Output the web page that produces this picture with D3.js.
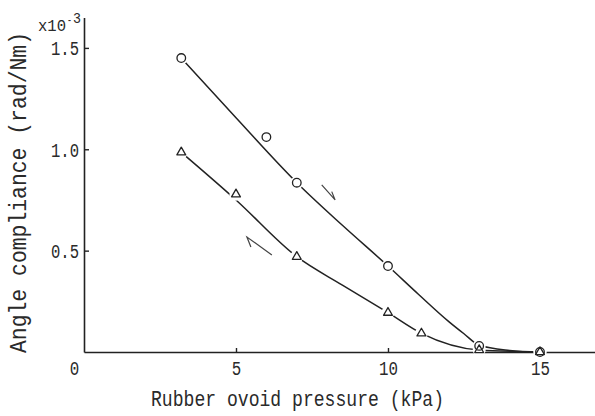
<!DOCTYPE html>
<html>
<head>
<meta charset="utf-8">
<script src="https://cdn.jsdelivr.net/npm/d3@7"></script>
<style>
  body { margin: 0; background: #fff; }
  text { font-family: "Liberation Mono", "DejaVu Sans Mono", monospace; fill: #2a2a2a; }
</style>
</head>
<body>
<svg id="chart" width="595" height="416"></svg>
<script>
// measured points, circles (pressure rising) and triangles (pressure falling)
var circleP = [3.2, 6, 7, 10, 13, 15];
var circleC = [1.45, 1.06, 0.835, 0.424, 0.03, 0.0];
var triP = [3.2, 5, 7, 10, 11.1, 13, 15];
var triC = [0.985, 0.778, 0.47, 0.194, 0.092, 0.01, 0.0];

// hand drawn fit curves
var circleFitP = [3.2, 5, 7, 8.5, 10, 11, 12, 12.5, 13, 14, 15];
var circleFitC = [1.45, 1.155, 0.835, 0.625, 0.424, 0.285, 0.15, 0.09, 0.033, 0.008, 0.0];
var triFitP = [3.2, 5, 7, 8.5, 10, 11.1, 13, 15];
var triFitC = [0.985, 0.75, 0.47, 0.33, 0.194, 0.092, 0.01, 0.0];

// direction arrows (tail, tip, barb) in data units
var arrowDownP = [7.82, 8.26, 8.15];
var arrowDownC = [0.824, 0.75, 0.791];
var arrowUpP = [6.18, 5.36, 5.49];
var arrowUpC = [0.479, 0.567, 0.518];

var xTicks = [0, 5, 10, 15];
var yTicks = [0.5, 1.0, 1.5];

var svg = d3.select("#chart");

//scales
var x = d3.scaleLinear().domain([0, 16.8]).range([84, 594.7]);
var y = d3.scaleLinear().domain([0, 1.65]).range([352, 17.5]);

var ink = "#222";

//axes
var xAxis = d3.axisBottom(x).tickValues(xTicks).tickSize(-4).tickSizeOuter(0)
    .tickFormat(d3.format("d"));
var yAxis = d3.axisLeft(y).tickValues(yTicks).tickSize(-5).tickSizeOuter(0)
    .tickPadding(5).tickFormat(d3.format(".1f"));

var gx = svg.append("g").attr("transform", "translate(0,352)").call(xAxis);
var gy = svg.append("g").attr("transform", "translate(84,0)").call(yAxis);

[gx, gy].forEach(function(g) {
  g.select(".domain").attr("stroke", ink).attr("stroke-width", 1.6);
  g.selectAll(".tick line").attr("stroke", ink).attr("stroke-width", 1.4);
  g.selectAll(".tick text").attr("font-size", 21).attr("fill", "#2a2a2a")
    .attr("font-family", "Liberation Mono")
    .attr("lengthAdjust", "spacingAndGlyphs");
});

gx.selectAll(".tick text")
  .attr("y", 23).attr("dy", null)
  .attr("textLength", function(d) { return String(d).length * 9.5; })
  .attr("x", function(d) { return d === 0 ? -10 : 0; });
gx.selectAll(".tick").filter(function(d) { return d === 0; }).select("line").remove();

gy.selectAll(".tick text")
  .attr("dy", "0.33em")
  .attr("textLength", 28);

//axis titles
svg.append("text")
  .attr("x", 297.5).attr("y", 406)
  .attr("text-anchor", "middle")
  .attr("font-size", 22)
  .attr("textLength", 293).attr("lengthAdjust", "spacingAndGlyphs")
  .text("Rubber ovoid pressure (kPa)");

svg.append("text")
  .attr("transform", "translate(26,192.5) rotate(-90)")
  .attr("text-anchor", "middle")
  .attr("font-size", 23)
  .attr("textLength", 321).attr("lengthAdjust", "spacingAndGlyphs")
  .text("Angle compliance (rad/Nm)");

//unit multiplier  x10^-3
var mult = svg.append("text").attr("font-size", 16);
mult.append("tspan").attr("x", 38).attr("y", 31)
  .attr("textLength", 28).attr("lengthAdjust", "spacingAndGlyphs").text("x10");
mult.append("tspan").attr("x", 67).attr("y", 24).attr("font-size", 12)
  .attr("textLength", 5).attr("lengthAdjust", "spacingAndGlyphs").text("-");
mult.append("tspan").attr("x", 73).attr("y", 23).attr("font-size", 15)
  .attr("textLength", 8).attr("lengthAdjust", "spacingAndGlyphs").text("3");

//fit curves
var line = d3.line()
  .x(function(d) { return x(d[0]); })
  .y(function(d) { return y(d[1]); })
  .curve(d3.curveMonotoneX);

svg.append("path")
  .datum(d3.zip(circleFitP, circleFitC))
  .attr("fill", "none").attr("stroke", ink).attr("stroke-width", 1.5)
  .attr("d", line);

svg.append("path")
  .datum(d3.zip(triFitP, triFitC))
  .attr("fill", "none").attr("stroke", ink).attr("stroke-width", 1.5)
  .attr("d", line);

//white halos so curves stop short of the markers
var circles = d3.zip(circleP, circleC);
var tris = d3.zip(triP, triC);

svg.append("g").selectAll("circle")
  .data(circles.concat(tris))
  .enter().append("circle")
  .attr("cx", function(d) { return x(d[0]); })
  .attr("cy", function(d) { return y(d[1]); })
  .attr("r", 6.5)
  .attr("fill", "#fff");

//markers
svg.append("g").selectAll("circle")
  .data(circles)
  .enter().append("circle")
  .attr("cx", function(d) { return x(d[0]); })
  .attr("cy", function(d) { return y(d[1]); })
  .attr("r", 4.3)
  .attr("fill", "none")
  .attr("stroke", ink).attr("stroke-width", 1.3);

var tri = d3.symbol().type(d3.symbolTriangle).size(34);
svg.append("g").selectAll("path")
  .data(tris)
  .enter().append("path")
  .attr("transform", function(d) { return "translate(" + x(d[0]) + "," + y(d[1]) + ")"; })
  .attr("d", tri)
  .attr("fill", "none")
  .attr("stroke", ink).attr("stroke-width", 1.3)
  .attr("stroke-linejoin", "round");

//direction arrows
function drawArrow(ps, cs) {
  var pts = ps.map(function(p, i) { return [x(p), y(cs[i])]; });
  svg.append("path")
    .attr("d", "M" + pts[0] + "L" + pts[1] + "L" + pts[2])
    .attr("fill", "none")
    .attr("stroke", "#444").attr("stroke-width", 1.2);
}
drawArrow(arrowDownP, arrowDownC);
drawArrow(arrowUpP, arrowUpC);
</script>
</body>
</html>
